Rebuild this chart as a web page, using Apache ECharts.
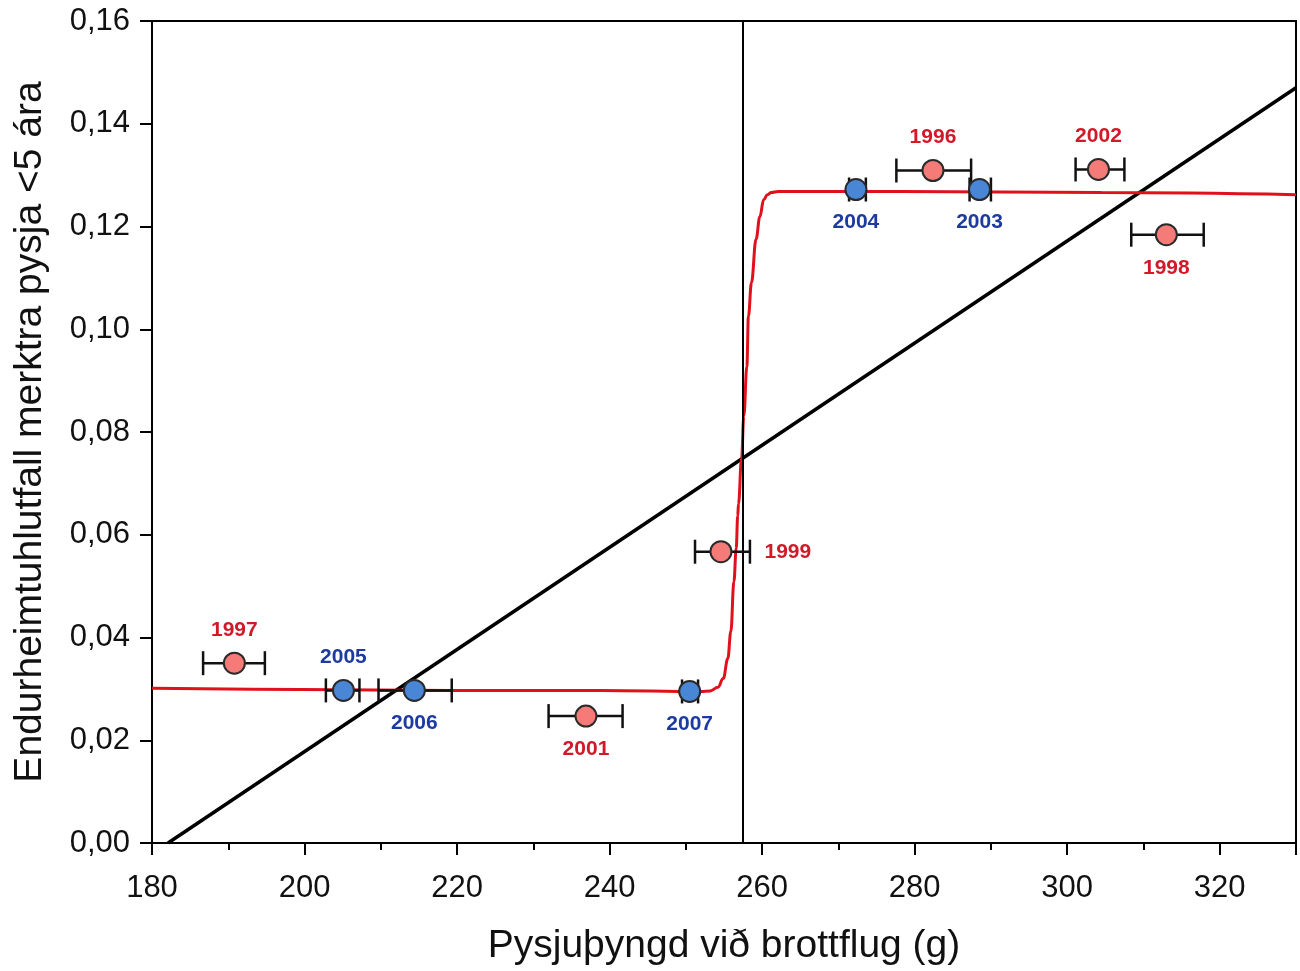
<!DOCTYPE html>
<html>
<head>
<meta charset="utf-8">
<script src="https://cdn.jsdelivr.net/npm/echarts@6/dist/echarts.min.js"></script>
<style>html,body{margin:0;padding:0;background:#fff}#c{width:1300px;height:971px}</style>
</head>
<body>
<div id="c"></div>
<script>
// ---- data ----
const years    = ['1997','2005','2006','2001','2007','1999','2004','1996','2003','2002','1998'];
const groups   = ['red','blue','blue','red','blue','red','blue','red','blue','red','red'];
const weights  = [190.8, 205.1, 214.4, 236.9, 250.5, 254.6, 272.3, 282.4, 288.5, 304.1, 313.0];
const errLow   = [186.7, 202.8, 209.7, 232.0, 249.5, 251.2, 271.4, 277.6, 287.2, 301.1, 308.4];
const errHigh  = [194.8, 207.2, 219.3, 241.7, 251.6, 258.4, 273.6, 287.4, 290.0, 307.5, 317.9];
const rates    = [0.0350, 0.0297, 0.0297, 0.0247, 0.0295, 0.0567, 0.1272, 0.1309, 0.1272, 0.1311, 0.1184];

// fitted step curve
const curveX = [180.0, 199.4, 219.1, 238.8, 252.0, 253.2, 254.2, 254.9, 255.5, 255.9, 256.3, 256.6, 256.8, 256.9, 257.3, 257.6, 258.0, 258.2, 258.6, 259.2, 259.7, 260.2, 260.7, 261.2, 262.1, 278.2, 304.5, 330.0];
const curveY = [0.0301, 0.0299, 0.0297, 0.0297, 0.0295, 0.0296, 0.0303, 0.0320, 0.0359, 0.0412, 0.0509, 0.0573, 0.0637, 0.0660, 0.0748, 0.0831, 0.0928, 0.1025, 0.1091, 0.1175, 0.1219, 0.1252, 0.1262, 0.1266, 0.1268, 0.1268, 0.1266, 0.1262];

// linear regression line endpoints
const lineX = [182.1, 330.0];
const lineY = [0.0, 0.147];

// threshold vertical line
const threshold = 257.5;

const xTicks = [180, 200, 220, 240, 260, 280, 300, 320];
const yTicks = [0, 0.02, 0.04, 0.06, 0.08, 0.10, 0.12, 0.14, 0.16];

// ---- style ----
const labelPos = {'1997':'top','2005':'top','2006':'bottom','2001':'bottom','2007':'bottom','1999':'right','2004':'bottom','1996':'top','2003':'bottom','2002':'top','1998':'bottom'};
const colors = {
  red:  {fill:'#f47b78', label:'#d01a2a'},
  blue: {fill:'#4a86d6', label:'#1c3aa0'}
};
const FONT = 'Liberation Sans, Arial, sans-serif';

const chart = echarts.init(document.getElementById('c'), null, {renderer:'canvas'});

const errData = weights.map((w,i)=>[errLow[i], errHigh[i], rates[i]]);

function pointSeries(g){
  const d = [];
  weights.forEach((w,i)=>{
    if(groups[i]!==g) return;
    const p = labelPos[years[i]];
    d.push({
      value:[w, rates[i]],
      label:{show:true, formatter:years[i], position:p, distance: p==='right'?32:11}
    });
  });
  return {
    type:'scatter', name:g, z:10, symbol:'circle', symbolSize:21,
    itemStyle:{color:colors[g].fill, borderColor:'#2a2a2a', borderWidth:2, opacity:1},
    label:{color:colors[g].label, fontFamily:FONT, fontWeight:'bold', fontSize:21},
    data:d
  };
}

const option = {
  animation:false,
  backgroundColor:'#fff',
  grid:{left:152, right:4, top:21, bottom:126, show:true, borderColor:'#000', borderWidth:2, backgroundColor:'transparent'},
  xAxis:{
    type:'value', min:180, max:330, interval:20,
    name:'Pysjuþyngd við brottflug (g)', nameLocation:'middle', nameGap:84,
    nameTextStyle:{fontFamily:FONT, fontSize:39, color:'#111'},
    axisLine:{show:true, lineStyle:{color:'#000', width:2}},
    axisTick:{show:true, length:12, lineStyle:{color:'#000', width:2}},
    minorTick:{show:true, splitNumber:2, length:7, lineStyle:{color:'#000', width:2}},
    splitLine:{show:false},
    axisLabel:{margin:30, fontFamily:FONT, fontSize:31, color:'#111',
      formatter:v=> xTicks.includes(v)? String(v):''}
  },
  yAxis:{
    type:'value', min:0, max:0.16, interval:0.02,
    name:'Endurheimtuhlutfall merktra pysja <5 ára', nameLocation:'middle', nameGap:102,
    nameTextStyle:{fontFamily:FONT, fontSize:39, color:'#111'},
    axisLine:{show:true, lineStyle:{color:'#000', width:2}},
    axisTick:{show:true, length:12, lineStyle:{color:'#000', width:2}},
    splitLine:{show:false},
    axisLabel:{margin:22, fontFamily:FONT, fontSize:31, color:'#111',
      formatter:v=>{ const t = yTicks.find(q=>Math.abs(q-v)<1e-9); return t===undefined?'':t.toFixed(2).replace('.',','); }}
  },
  series:[
    {
      type:'line', name:'threshold', data:[], silent:true,
      markLine:{symbol:'none', silent:true, label:{show:false},
        lineStyle:{color:'#000', width:2, type:'solid'}, data:[{xAxis:threshold}]}
    },
    {
      type:'line', name:'linear', showSymbol:false, symbol:'none', z:3,
      lineStyle:{color:'#000', width:3.5},
      data: lineX.map((x,i)=>[x, lineY[i]])
    },
    {
      type:'line', name:'step', showSymbol:false, symbol:'none', smooth:0.4, smoothMonotone:'x', z:4,
      lineStyle:{color:'#e0101c', width:3},
      data: curveX.map((x,i)=>[x, curveY[i]])
    },
    {
      type:'custom', name:'err', z:5,
      renderItem:(params, api)=>{
        const a = api.coord([api.value(0), api.value(2)]);
        const b = api.coord([api.value(1), api.value(2)]);
        const h = 12;
        const st = {stroke:'#111', lineWidth:2.5};
        return {type:'group', children:[
          {type:'line', shape:{x1:a[0],y1:a[1],x2:b[0],y2:b[1]}, style:st},
          {type:'line', shape:{x1:a[0],y1:a[1]-h,x2:a[0],y2:a[1]+h}, style:st},
          {type:'line', shape:{x1:b[0],y1:b[1]-h,x2:b[0],y2:b[1]+h}, style:st}
        ]};
      },
      encode:{x:[0,1], y:2},
      data: errData
    },
    pointSeries('red'),
    pointSeries('blue')
  ]
};
chart.setOption(option);
</script>
</body>
</html>
